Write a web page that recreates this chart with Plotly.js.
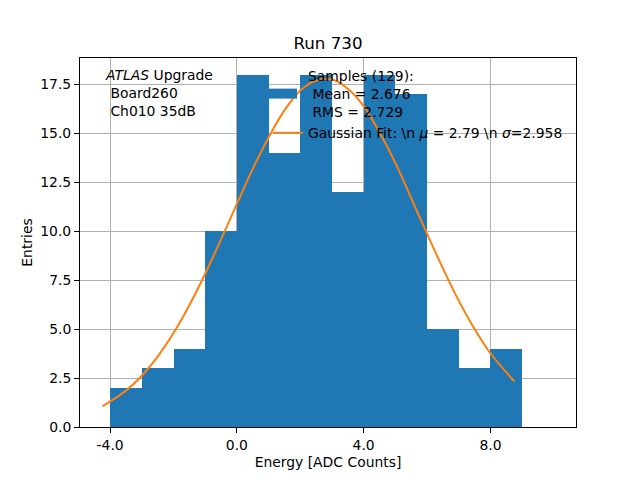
<!DOCTYPE html>
<html>
<head>
<meta charset="utf-8">
<script src="https://cdn.plot.ly/plotly-3.0.1.min.js"></script>
<style>html,body{margin:0;padding:0;background:#fff;}#plot{width:640px;height:480px;}</style>
</head>
<body>
<div id="plot"></div>
<script>
// Histogram bins (left edges, width 1) and counts
const binLeft = [-4, -3, -2, -1, 0, 1, 2, 3, 4, 5, 6, 7, 8];
const counts  = [2, 3, 4, 10, 18, 14, 18, 12, 18, 17, 5, 3, 4];
// Gaussian fit curve
const fitX = [-4.24, -3.5, -3, -2.5, -2, -1.5, -1, -0.5, 0, 0.5, 1, 1.5, 2, 2.5, 3, 3.5, 4, 4.5, 5, 5.5, 6, 6.5, 7, 7.5, 8, 8.76];
const fitY = [1.06, 1.86, 2.62, 3.60, 4.80, 6.22, 7.83, 9.59, 11.4, 13.19, 14.8, 16.18, 17.2, 17.71, 17.76, 17.29, 16.4, 15.06, 13.5, 11.70, 9.88, 8.11, 6.46, 5.01, 3.77, 2.32];
// Ticks
const xTickVals = [-4, 0, 4, 8];
const xTickText = ["-4.0", "0.0", "4.0", "8.0"];
const yTickVals = [0, 2.5, 5, 7.5, 10, 12.5, 15, 17.5];
const yTickText = ["0.0", "2.5", "5.0", "7.5", "10.0", "12.5", "15.0", "17.5"];

const NB = "\u00a0";
const histLabel = "Samples (129):<br>" + NB + "Mean = 2.676<br>" + NB + "RMS = 2.729";
const fitLabel = "Gaussian Fit: \\n <i>\u03bc</i> = 2.79 \\n <i>\u03c3</i>=2.958";

const font = {family: "DejaVu Sans", size: 13.9, color: "#000"};

const traces = [
  {
    type: "bar",
    x: binLeft,
    y: counts,
    width: binLeft.map(() => 1),
    offset: 0,
    marker: {color: "#1f77b4", line: {width: 0}},
    name: histLabel,
    hoverinfo: "skip"
  },
  {
    type: "scatter",
    mode: "lines",
    x: fitX,
    y: fitY,
    line: {color: "#ff7f0e", width: 2, shape: "spline"},
    name: fitLabel,
    hoverinfo: "skip"
  }
];

const layout = {
  width: 640,
  height: 480,
  margin: {l: 80, r: 64, t: 58, b: 53, pad: 0},
  paper_bgcolor: "#fff",
  plot_bgcolor: "#fff",
  font: font,
  bargap: 0,
  title: {text: "Run 730", font: {family: "DejaVu Sans", size: 16.7, color: "#000"}, x: 0.5, xref: "paper", xanchor: "center", y: 1 - 43/480, yanchor: "middle"},
  xaxis: {
    range: [-4.95, 10.7],
    tickvals: xTickVals,
    ticktext: xTickText,
    ticks: "outside",
    ticklen: 5,
    tickwidth: 1,
    tickcolor: "#000",
    showline: true,
    linecolor: "#000",
    linewidth: 1,
    mirror: true,
    showgrid: true,
    gridcolor: "#b0b0b0",
    gridwidth: 1,
    zeroline: false,
    tickfont: font,
    title: {text: "Energy [ADC Counts]", font: font, standoff: 5}
  },
  yaxis: {
    range: [0, 18.86],
    tickvals: yTickVals,
    ticktext: yTickText,
    ticks: "outside",
    ticklen: 5,
    tickwidth: 1,
    tickcolor: "#000",
    showline: true,
    linecolor: "#000",
    linewidth: 1,
    mirror: true,
    showgrid: true,
    gridcolor: "#b0b0b0",
    gridwidth: 1,
    zeroline: false,
    tickfont: font,
    title: {text: "Entries", font: font, standoff: 4}
  },
  showlegend: true,
  legend: {
    x: (268 - 80) / 496,
    xanchor: "left",
    y: (427 - 60) / 369,
    yanchor: "top",
    bgcolor: "rgba(0,0,0,0)",
    borderwidth: 0,
    font: font,
    tracegroupgap: 0,
    valign: "middle"
  },
  annotations: [
    {
      xref: "paper", yref: "paper",
      x: (103 - 80) / 496, y: (427 - 65) / 369,
      xanchor: "left", yanchor: "top",
      align: "left",
      showarrow: false,
      font: font,
      text: "<i>ATLAS</i> Upgrade<br>" + NB + "Board260<br>" + NB + "Ch010 35dB"
    }
  ]
};

Plotly.newPlot("plot", traces, layout, {displayModeBar: false, staticPlot: true}).then(function (gd) {
  // widen the histogram legend handle to a matplotlib-style patch
  const pts = gd.querySelectorAll(".legend .traces .legendpoints path");
  pts.forEach(function (p) {
    const d = (p.getAttribute("d") || "").replace(/\s/g, "");
    if (d === "M6,6H-6V-6H6Z") {
      p.setAttribute("d", "M9,5H-20V-5H9Z");
    }
  });
});
</script>
</body>
</html>
